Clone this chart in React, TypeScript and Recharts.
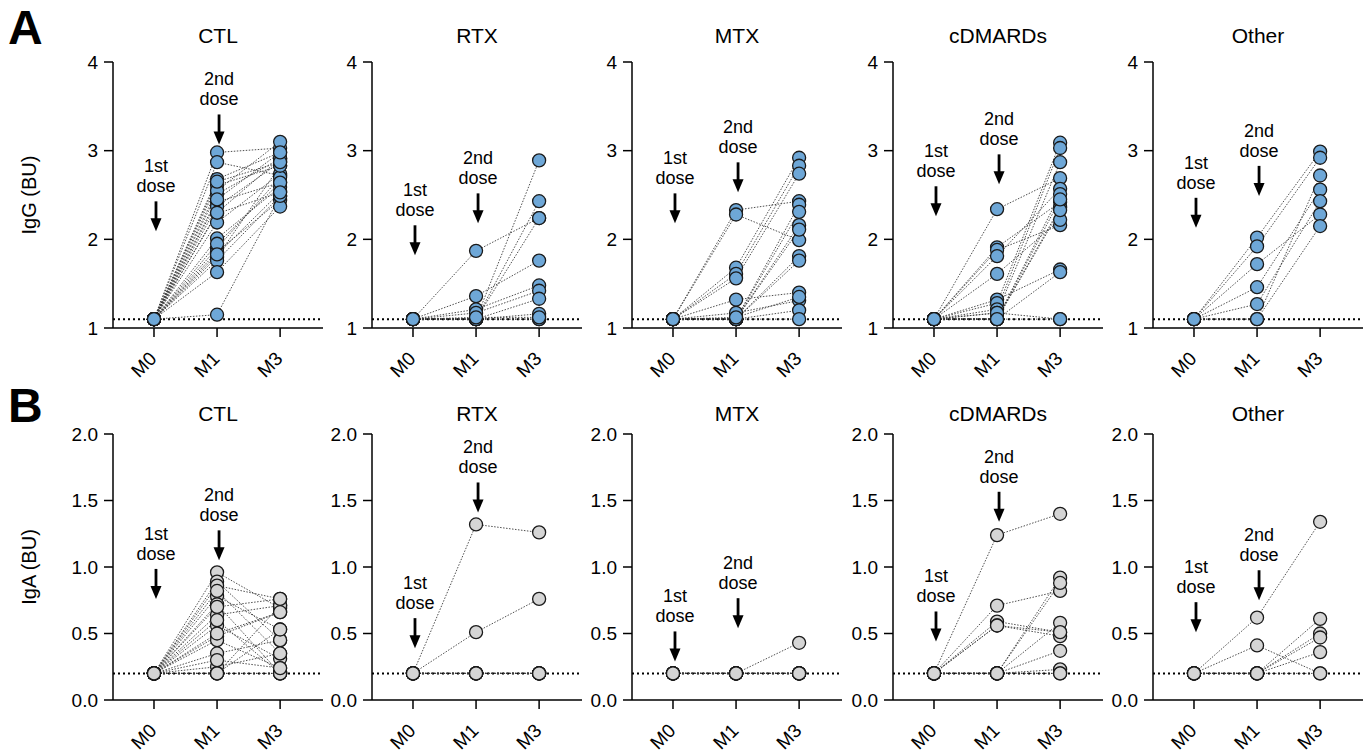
import React from "react";
import { ComposedChart, Line, XAxis, YAxis, ReferenceLine, ReferenceDot } from "recharts";

const timepoints = ["M0", "M1", "M3"];
const panelTitles = ["CTL", "RTX", "MTX", "cDMARDs", "Other"];

const iggTicks = [1, 2, 3, 4];
const igaTicks = [0, 0.5, 1.0, 1.5, 2.0];

// one row per subject: [M0, M1, M3]
const iggCtl = [
  [1.1, 2.98, 3.03], [1.1, 2.87, 2.72], [1.1, 2.68, 2.98], [1.1, 2.61, 2.83],
  [1.1, 2.51, 2.91], [1.1, 2.42, 2.64], [1.1, 2.37, 2.87], [1.1, 2.29, 2.53],
  [1.1, 2.19, 2.74], [1.1, 2.01, 2.59], [1.1, 1.9, 2.7], [1.1, 1.86, 2.44],
  [1.1, 1.8, 2.83], [1.1, 1.76, 2.49], [1.1, 1.63, 2.37], [1.1, 1.15, 2.49],
  [1.1, 2.55, 3.1], [1.1, 2.3, 2.91], [1.1, 1.95, 2.64], [1.1, 1.83, 2.53],
  [1.1, 2.65, 2.87], [1.1, 2.45, 2.98],
];
const iggRtx = [
  [1.1, 1.87, 2.24], [1.1, 1.36, 1.76], [1.1, 1.21, 1.48], [1.1, 1.17, 1.42],
  [1.1, 1.1, 2.89], [1.1, 1.1, 2.43], [1.1, 1.1, 2.24], [1.1, 1.1, 1.33],
  [1.1, 1.1, 1.16], [1.1, 1.1, 1.1], [1.1, 1.1, 1.1], [1.1, 1.12, 1.12],
];
const iggMtx = [
  [1.1, 2.33, 2.43], [1.1, 2.28, 1.99], [1.1, 1.68, 2.92], [1.1, 1.61, 2.83],
  [1.1, 1.56, 2.74], [1.1, 1.32, 1.4], [1.1, 1.17, 1.31], [1.1, 1.1, 2.39],
  [1.1, 1.1, 2.31], [1.1, 1.1, 2.16], [1.1, 1.1, 2.11], [1.1, 1.1, 1.81],
  [1.1, 1.1, 1.76], [1.1, 1.1, 1.2], [1.1, 1.1, 1.1], [1.1, 1.12, 1.35],
];
const iggCdmards = [
  [1.1, 2.34, 2.69], [1.1, 1.91, 2.42], [1.1, 1.88, 2.16], [1.1, 1.81, 2.57],
  [1.1, 1.61, 2.22], [1.1, 1.32, 1.66], [1.1, 1.28, 3.09], [1.1, 1.21, 3.03],
  [1.1, 1.17, 2.87], [1.1, 1.1, 2.51], [1.1, 1.1, 2.36], [1.1, 1.1, 2.33],
  [1.1, 1.1, 1.63], [1.1, 1.1, 1.1], [1.1, 1.17, 1.1], [1.1, 1.1, 2.45],
];
const iggOther = [
  [1.1, 2.02, 2.99], [1.1, 1.92, 2.92], [1.1, 1.72, 2.28], [1.1, 1.46, 2.56],
  [1.1, 1.27, 2.43], [1.1, 1.1, 2.72], [1.1, 1.1, 2.15],
];

const igaCtl = [
  [0.2, 0.96, 0.69], [0.2, 0.89, 0.45], [0.2, 0.86, 0.76], [0.2, 0.78, 0.53],
  [0.2, 0.72, 0.2], [0.2, 0.64, 0.71], [0.2, 0.56, 0.31], [0.2, 0.48, 0.66],
  [0.2, 0.45, 0.24], [0.2, 0.35, 0.45], [0.2, 0.25, 0.35], [0.2, 0.2, 0.2],
  [0.2, 0.2, 0.53], [0.2, 0.2, 0.71], [0.2, 0.2, 0.2], [0.2, 0.82, 0.35],
  [0.2, 0.7, 0.76], [0.2, 0.6, 0.2], [0.2, 0.5, 0.66], [0.2, 0.3, 0.24],
];
const igaRtx = [
  [0.2, 1.32, 1.26], [0.2, 0.51, 0.76], [0.2, 0.2, 0.2], [0.2, 0.2, 0.2],
  [0.2, 0.2, 0.2], [0.2, 0.2, 0.2], [0.2, 0.2, 0.2], [0.2, 0.2, 0.2],
];
const igaMtx = [
  [0.2, 0.2, 0.43], [0.2, 0.2, 0.2], [0.2, 0.2, 0.2], [0.2, 0.2, 0.2],
  [0.2, 0.2, 0.2], [0.2, 0.2, 0.2], [0.2, 0.2, 0.2], [0.2, 0.2, 0.2],
];
const igaCdmards = [
  [0.2, 1.24, 1.4], [0.2, 0.71, 0.82], [0.2, 0.59, 0.51], [0.2, 0.56, 0.48],
  [0.2, 0.2, 0.92], [0.2, 0.2, 0.88], [0.2, 0.2, 0.58], [0.2, 0.2, 0.37],
  [0.2, 0.2, 0.23], [0.2, 0.2, 0.2], [0.2, 0.2, 0.2], [0.2, 0.56, 0.51],
];
const igaOther = [
  [0.2, 0.62, 1.34], [0.2, 0.41, 0.2], [0.2, 0.2, 0.61], [0.2, 0.2, 0.5],
  [0.2, 0.2, 0.47], [0.2, 0.2, 0.36], [0.2, 0.2, 0.2],
];

// where the "1st dose" / "2nd dose" arrows point (y value of arrow tip)
const iggArrow1 = [2.09, 1.82, 2.18, 2.26, 2.13];
const iggArrow2 = [3.07, 2.18, 2.53, 2.62, 2.49];
const igaArrow1 = [0.76, 0.39, 0.29, 0.44, 0.51];
const igaArrow2 = [1.05, 1.41, 0.54, 1.34, 0.75];

const iggRows = [iggCtl, iggRtx, iggMtx, iggCdmards, iggOther];
const igaRows = [igaCtl, igaRtx, igaMtx, igaCdmards, igaOther];

const panelX = [113, 372, 632, 893, 1153];
const FONT = "'Liberation Sans', Arial, Helvetica, sans-serif";

function XTick(props: any) {
  const { x, y, payload } = props;
  return (
    <g transform={`translate(${x - 1},${y + 16})`}>
      <text x={0} y={0} dy="0.35em" textAnchor="end" transform="rotate(-45)" fontSize={19} fill="#000" fontFamily={FONT}>
        {timepoints[payload.value]}
      </text>
    </g>
  );
}

function Arrow(props: any) {
  const { cx, cy, label } = props;
  const x = cx + 2;
  return (
    <g fontFamily={FONT}>
      <text x={x} y={cy - 59} textAnchor="middle" fontSize={18} fill="#000">{label}</text>
      <text x={x} y={cy - 39} textAnchor="middle" fontSize={18} fill="#000">dose</text>
      <line x1={x} y1={cy - 30} x2={x} y2={cy - 10} stroke="#000" strokeWidth={2.8} />
      <polygon points={`${x - 5.5},${cy - 13} ${x + 5.5},${cy - 13} ${x},${cy}`} fill="#000" />
    </g>
  );
}

interface PanelProps {
  rows: number[][];
  domain: number[];
  ticks: number[];
  baseline: number;
  fill: string;
  a1: number;
  a2: number;
  left: number;
  top: number;
  decimals: boolean;
}

function Panel({ rows, domain, ticks, baseline, fill, a1, a2, left, top, decimals }: PanelProps) {
  const table = timepoints.map((_, t) => {
    const row: any = { x: t };
    rows.forEach((r, i) => (row["s" + i] = r[t]));
    return row;
  });
  const axisStyle = { stroke: "#000", strokeWidth: 1.5 };
  return (
    <div style={{ position: "absolute", left, top }}>
      <ComposedChart width={265} height={356} data={table} margin={{ top: 10, right: 5, bottom: 0, left: 0 }}>
        <XAxis
          dataKey="x"
          type="number"
          domain={[-0.65, 2.68]}
          ticks={[0, 1, 2]}
          interval={0}
          allowDataOverflow
          height={80}
          tickSize={9}
          tick={<XTick />}
          axisLine={axisStyle}
          tickLine={axisStyle}
        />
        <YAxis
          type="number"
          domain={domain}
          ticks={ticks}
          interval={0}
          allowDataOverflow
          width={50}
          tickSize={9}
          tickMargin={6}
          tick={{ fill: "#000", fontSize: 19, fontFamily: FONT }}
          tickFormatter={(v: number) => (decimals ? v.toFixed(1) : String(v))}
          axisLine={axisStyle}
          tickLine={axisStyle}
        />
        <ReferenceLine y={baseline} stroke="#000" strokeWidth={2} strokeDasharray="2 3" />
        {rows.map((_, i) => (
          <Line
            key={"l" + i}
            dataKey={"s" + i}
            type="linear"
            stroke="#3a3a3a"
            strokeWidth={0.9}
            strokeDasharray="1.5 1.5"
            dot={false}
            activeDot={false}
            isAnimationActive={false}
          />
        ))}
        {rows.map((_, i) => (
          <Line
            key={"d" + i}
            dataKey={"s" + i}
            stroke="none"
            dot={{ r: 6.5, fill, stroke: "#1a1a1a", strokeWidth: 1.3, strokeDasharray: "" }}
            activeDot={false}
            isAnimationActive={false}
          />
        ))}
        <ReferenceDot x={0} y={a1} shape={(p: any) => <Arrow {...p} label="1st" />} />
        <ReferenceDot x={1} y={a2} shape={(p: any) => <Arrow {...p} label="2nd" />} />
      </ComposedChart>
    </div>
  );
}

export default function App() {
  return (
    <div style={{ position: "absolute", left: 0, top: 0, width: 1372, height: 754, background: "#fff", fontFamily: FONT, overflow: "hidden" }}>
      <svg width={1372} height={754} style={{ position: "absolute", left: 0, top: 0 }} fontFamily={FONT}>
        <text x={8} y={44} fontSize={48} fontWeight="bold" fill="#000">A</text>
        <text x={8} y={422} fontSize={48} fontWeight="bold" fill="#000">B</text>
        {panelTitles.map((t, i) => (
          <text key={"ta" + i} x={panelX[i] + 105} y={43} textAnchor="middle" fontSize={21} fill="#000">{t}</text>
        ))}
        {panelTitles.map((t, i) => (
          <text key={"tb" + i} x={panelX[i] + 105} y={421} textAnchor="middle" fontSize={21} fill="#000">{t}</text>
        ))}
        <text x={0} y={0} transform="translate(36,195) rotate(-90)" textAnchor="middle" fontSize={20} fill="#000">IgG (BU)</text>
        <text x={0} y={0} transform="translate(36,567) rotate(-90)" textAnchor="middle" fontSize={20} fill="#000">IgA (BU)</text>
      </svg>
      {iggRows.map((rows, i) => (
        <Panel
          key={"a" + i}
          rows={rows}
          domain={[1, 4]}
          ticks={iggTicks}
          baseline={1.1}
          fill="#6ea7d7"
          a1={iggArrow1[i]}
          a2={iggArrow2[i]}
          left={panelX[i] - 50}
          top={52}
          decimals={false}
        />
      ))}
      {igaRows.map((rows, i) => (
        <Panel
          key={"b" + i}
          rows={rows}
          domain={[0, 2]}
          ticks={igaTicks}
          baseline={0.2}
          fill="#d5d5d5"
          a1={igaArrow1[i]}
          a2={igaArrow2[i]}
          left={panelX[i] - 50}
          top={424}
          decimals={true}
        />
      ))}
    </div>
  );
}
